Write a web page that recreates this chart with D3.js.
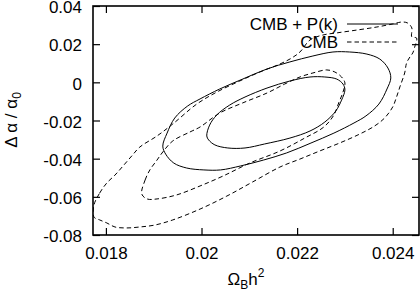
<!DOCTYPE html>
<html>
<head>
<meta charset="utf-8">
<script src="https://cdn.jsdelivr.net/npm/d3@7"></script>
<style>
  body { margin: 0; background: #fff; }
  svg { display: block; font-family: "Liberation Sans", Arial, sans-serif; }
  .axis path { display: none; }
  .axis line { stroke: #000; stroke-width: 1.2; }
  .axis text { font-size: 17px; fill: #000; }
  .contour { fill: none; stroke: #000; stroke-width: 1; }
  .dashed { stroke-dasharray: 4.5, 3; }
</style>
</head>
<body>
<div id="chart"></div>
<script>
// x: Omega_B h^2, y: Delta alpha / alpha_0
const xTicks = [0.018, 0.02, 0.022, 0.024]
const xTickLabels = ["0.018", "0.02", "0.022", "0.024"]
const yTicks = [0.04, 0.02, 0, -0.02, -0.04, -0.06, -0.08]
const yTickLabels = ["0.04", "0.02", "0", "-0.02", "-0.04", "-0.06", "-0.08"]
const legendLabels = ["CMB + P(k)", "CMB"]

// CMB + P(k), outer contour
const pkOuter = [
  [0.01919, -0.0334], [0.01928, -0.0266], [0.01944, -0.0187], [0.01971, -0.0124],
  [0.01997, -0.0087], [0.02038, -0.0035], [0.02086, 0.0017], [0.02137, 0.0070],
  [0.02185, 0.0107], [0.02233, 0.0138], [0.02275, 0.0159], [0.0231, 0.0159],
  [0.02346, 0.0148], [0.02373, 0.0122], [0.0239, 0.0075], [0.02396, 0.0023],
  [0.02388, -0.0035], [0.02371, -0.0114], [0.02344, -0.0176], [0.02319, -0.0213],
  [0.02277, -0.0266], [0.02229, -0.0318], [0.02178, -0.037], [0.0213, -0.0407],
  [0.02082, -0.0438], [0.0204, -0.0459], [0.02005, -0.0459], [0.01969, -0.0449],
  [0.01942, -0.0423], [0.01925, -0.0376],
]
// CMB + P(k), inner contour
const pkInner = [
  [0.02011, -0.0281], [0.02017, -0.0224], [0.02032, -0.0171], [0.02059, -0.0119],
  [0.02091, -0.0077], [0.02137, -0.003], [0.02185, 0.0007], [0.02227, 0.0028],
  [0.02258, 0.0028], [0.02283, 0.0017], [0.02296, -0.0009], [0.023, -0.004],
  [0.02293, -0.0093], [0.02281, -0.015], [0.02258, -0.0208], [0.02227, -0.0255],
  [0.02185, -0.0292], [0.02132, -0.0323], [0.02091, -0.0344], [0.02055, -0.0344],
  [0.02028, -0.0328], [0.02015, -0.0302],
]
// CMB only, outer contour
const cmbOuter = [
  [0.01775, -0.0643], [0.01787, -0.058], [0.01802, -0.0527], [0.01819, -0.0486],
  [0.01836, -0.0438], [0.01854, -0.0386], [0.01871, -0.0339], [0.01907, -0.0281],
  [0.0194, -0.0218], [0.0199, -0.0114], [0.02032, -0.0051], [0.0208, 0.0007],
  [0.02122, 0.0054], [0.02164, 0.0096], [0.02189, 0.0128], [0.02206, 0.0159],
  [0.02227, 0.0222], [0.02254, 0.0248], [0.02283, 0.0259], [0.02325, 0.0274],
  [0.02367, 0.029], [0.024, 0.0306], [0.02419, 0.0316], [0.02431, 0.0311],
  [0.0244, 0.0285], [0.0244, 0.0238], [0.0245, 0.0232], [0.02446, 0.0185],
  [0.02442, 0.0154], [0.02436, 0.0133], [0.02429, 0.0101], [0.02425, 0.0049],
  [0.02415, -0.0024], [0.02408, -0.0077], [0.024, -0.0129], [0.02383, -0.0187],
  [0.02362, -0.0229], [0.02331, -0.0271], [0.02289, -0.0318], [0.02247, -0.036],
  [0.02206, -0.0402], [0.02164, -0.0444], [0.02107, -0.0522], [0.02053, -0.0596],
  [0.01997, -0.0664], [0.0194, -0.0721], [0.01902, -0.0748], [0.01871, -0.0758],
  [0.01844, -0.0763], [0.01819, -0.0758], [0.01802, -0.0737], [0.01787, -0.0721],
  [0.01775, -0.0706],
]
// CMB only, inner contour
const cmbInner = [
  [0.01875, -0.0585], [0.01882, -0.0512], [0.01892, -0.0459], [0.01907, -0.0407],
  [0.01919, -0.0365], [0.0194, -0.0307], [0.01976, -0.026], [0.01997, -0.0234],
  [0.02038, -0.0161], [0.02086, -0.0108], [0.02137, -0.0056], [0.02174, -0.0009],
  [0.02206, 0.0028], [0.02233, 0.0049], [0.02262, 0.0065], [0.02279, 0.0054],
  [0.02293, 0.0028], [0.023, -0.0003], [0.02296, -0.0051], [0.02287, -0.0108],
  [0.02277, -0.0171], [0.02256, -0.0234], [0.02216, -0.0292], [0.02164, -0.036],
  [0.02101, -0.0423], [0.02045, -0.0491], [0.01997, -0.0543], [0.01948, -0.059],
  [0.01907, -0.0611], [0.01886, -0.0611],
]

const W = 420
const H = 292
const margin = { top: 6, right: 1, bottom: 57, left: 93 }
const width = W - margin.left - margin.right
const height = H - margin.top - margin.bottom

const x = d3.scaleLinear().domain([0.01773, 0.02455]).range([0, width])
const y = d3.scaleLinear().domain([-0.08, 0.04]).range([height, 0])

const svg = d3
  .select("#chart")
  .append("svg")
  .attr("width", W)
  .attr("height", H)

const g = svg
  .append("g")
  .attr("transform", "translate(" + margin.left + "," + margin.top + ")")

g.append("clipPath")
  .attr("id", "plot-clip")
  .append("rect")
  .attr("width", width)
  .attr("height", height)

// ticks on all four sides, pointing inwards
g.append("g")
  .attr("class", "axis")
  .attr("transform", "translate(0," + height + ")")
  .call(
    d3.axisBottom(x).tickValues(xTicks).tickSize(-7).tickPadding(12)
      .tickFormat((d, i) => xTickLabels[i])
  )
g.append("g")
  .attr("class", "axis")
  .call(d3.axisTop(x).tickValues(xTicks).tickSize(-7).tickFormat(""))
g.append("g")
  .attr("class", "axis")
  .call(
    d3.axisLeft(y).tickValues(yTicks).tickSize(-7).tickPadding(11)
      .tickFormat((d, i) => yTickLabels[i])
  )
  .selectAll("text")
  .attr("dy", "0.4em")
g.append("g")
  .attr("class", "axis")
  .attr("transform", "translate(" + width + ",0)")
  .call(d3.axisRight(y).tickValues(yTicks).tickSize(-7).tickFormat(""))

const contour = d3
  .line()
  .x(d => x(d[0]))
  .y(d => y(d[1]))
  .curve(d3.curveCatmullRomClosed.alpha(0.5))

const lines = g.append("g").attr("clip-path", "url(#plot-clip)")
lines.append("path").attr("class", "contour").attr("d", contour(pkOuter))
lines.append("path").attr("class", "contour").attr("d", contour(pkInner))
lines.append("path").attr("class", "contour dashed").attr("d", contour(cmbOuter))
lines.append("path").attr("class", "contour dashed").attr("d", contour(cmbInner))

// frame
g.append("rect")
  .attr("width", width)
  .attr("height", height)
  .attr("fill", "none")
  .attr("stroke", "#000")
  .attr("stroke-width", 1.6)

// legend
const legend = g.append("g")
legendLabels.forEach((label, i) => {
  const ly = 18 + i * 18
  legend.append("text")
    .attr("x", 245)
    .attr("y", ly + 5.5)
    .attr("text-anchor", "end")
    .attr("font-size", 17)
    .text(label)
  legend.append("line")
    .attr("class", i === 0 ? "contour" : "contour dashed")
    .attr("x1", 254)
    .attr("x2", 305)
    .attr("y1", ly)
    .attr("y2", ly)
})

// axis titles
const xTitle = svg.append("text")
  .attr("x", 246)
  .attr("y", 285)
  .attr("text-anchor", "middle")
  .attr("font-size", 17)
xTitle.append("tspan").text("Ω")
xTitle.append("tspan").attr("font-size", 12).attr("dy", 4).text("B")
xTitle.append("tspan").attr("dy", -4).text("h")
xTitle.append("tspan").attr("font-size", 12).attr("dy", -8).text("2")

const yTitle = svg.append("text")
  .attr("transform", "translate(17,120) rotate(-90)")
  .attr("text-anchor", "middle")
  .attr("font-size", 17)
yTitle.append("tspan").text("Δ α / α")
yTitle.append("tspan").attr("font-size", 12).attr("dy", 4).text("0")
</script>
</body>
</html>
